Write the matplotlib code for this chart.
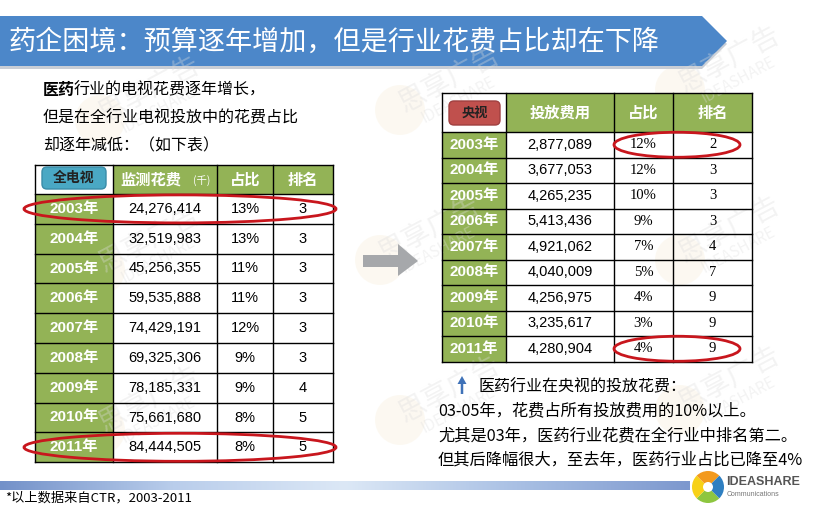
import matplotlib
matplotlib.use("Agg")
import matplotlib.pyplot as plt
import numpy as np
from matplotlib.patches import Rectangle, Polygon, FancyBboxPatch, Ellipse, FancyArrow, Wedge
from matplotlib.colors import LinearSegmentedColormap

plt.rcParams['font.family'] = ['Noto Sans CJK SC', 'DejaVu Sans']

# data: whole-TV spending of the pharma industry
years = ['2003年', '2004年', '2005年', '2006年', '2007年', '2008年', '2009年', '2010年', '2011年']
tv_spend = ['24,276,414', '32,519,983', '45,256,355', '59,535,888', '74,429,191',
            '69,325,306', '78,185,331', '75,661,680', '84,444,505']
tv_share = ['13%', '13%', '11%', '11%', '12%', '9%', '9%', '8%', '8%']
tv_rank = ['3', '3', '3', '3', '3', '3', '4', '5', '5']

# data: CCTV spending
cctv_spend = ['2,877,089', '3,677,053', '4,265,235', '5,413,436', '4,921,062',
              '4,040,009', '4,256,975', '3,235,617', '4,280,904']
cctv_share = ['12%', '12%', '10%', '9%', '7%', '5%', '4%', '3%', '4%']
cctv_rank = ['2', '3', '3', '3', '4', '7', '9', '9', '9']

title = '药企困境：预算逐年增加，但是行业花费占比却在下降'
intro = ['行业的电视花费逐年增长，', '但是在全行业电视投放中的花费占比', '却逐年减低：（如下表）']
notes = ['03-05年，花费占所有投放费用的10%以上。',
         '尤其是03年，医药行业花费在全行业中排名第二。',
         '但其后降幅很大，至去年，医药行业占比已降至4%']

GREEN = '#93B356'
BLUE = '#4C87C9'
RED = '#C8161D'
NUMF = ['Liberation Sans', 'Noto Sans CJK SC']

fig = plt.figure(figsize=(8.18, 5.09), dpi=100)
ax = fig.add_axes([0, 0, 1, 1])
ax.set_xlim(0, 818)
ax.set_ylim(509, 0)
ax.axis('off')

# faint watermarks
for wx, wy in [(150, 90), (450, 80), (730, 60), (150, 240), (430, 230), (730, 230),
               (150, 400), (450, 390), (730, 380)]:
    ax.add_patch(Ellipse((wx - 50, wy + 30), 50, 50, color='#F7EBD3', alpha=0.3, lw=0))
    ax.text(wx, wy, '思享广告', fontsize=20, color='#DDDDDD', rotation=28,
            ha='center', va='center', alpha=0.35)
    ax.text(wx + 8, wy + 20, 'IDEASHARE', fontsize=11, color='#DDDDDD', rotation=28,
            ha='center', va='center', alpha=0.35)

# title banner
ax.add_patch(Polygon([[0, 19], [702, 19], [727, 44], [702, 69], [0, 69]],
                     closed=True, color='#C9CED6', lw=0, zorder=1))
ax.add_patch(Polygon([[0, 16], [702, 16], [727, 41], [702, 66], [0, 66]],
                     closed=True, color=BLUE, lw=0, zorder=2))
ax.text(8, 42, title, fontsize=19.5, color='white', va='center', ha='left', zorder=3)

# intro text
ax.text(43, 90, '医药', fontsize=11.5, fontweight='bold', va='center', ha='left')
ax.text(73.5, 90, intro[0], fontsize=11.5, va='center', ha='left')
ax.text(43, 118, intro[1], fontsize=11.5, va='center', ha='left')
ax.text(43, 146, intro[2], fontsize=11.5, va='center', ha='left')


def draw_table(x_edges, y_top, head_h, row_h, headers, cols, data_family, data_size):
    n = len(years)
    ys = [y_top, y_top + head_h] + [y_top + head_h + row_h * (i + 1) for i in range(n)]
    # header cells
    for j in range(1, len(x_edges) - 1):
        ax.add_patch(Rectangle((x_edges[j], ys[0]), x_edges[j + 1] - x_edges[j],
                               head_h, color=GREEN, lw=0, zorder=2))
        if headers[j - 1]:
            ax.text((x_edges[j] + x_edges[j + 1]) / 2, ys[0] + head_h / 2, headers[j - 1],
                    fontsize=11, fontweight='bold', color='white', ha='center', va='center', zorder=4)
    # year column
    ax.add_patch(Rectangle((x_edges[0], ys[1]), x_edges[1] - x_edges[0], ys[-1] - ys[1],
                           color=GREEN, lw=0, zorder=2))
    for i, yr in enumerate(years):
        cy = ys[1] + row_h * (i + 0.5)
        ax.text((x_edges[0] + x_edges[1]) / 2, cy, yr, fontsize=11, fontweight='bold',
                color='white', ha='center', va='center', family=NUMF, zorder=4)
        for j, col in enumerate(cols):
            ax.text((x_edges[j + 1] + x_edges[j + 2]) / 2, cy, col[i], fontsize=data_size,
                    color='black', ha='center', va='center', family=data_family[j], zorder=4)
    # grid lines
    for y in ys:
        ax.plot([x_edges[0], x_edges[-1]], [y, y], color='black', lw=1, zorder=3)
    for x in x_edges:
        ax.plot([x, x], [ys[0], ys[-1]], color='black', lw=1, zorder=3)
    return ys


# left table
lx = [35, 113, 217, 273, 333]
lys = draw_table(lx, 165, 29, 29.8, ['', '占比', '排名'],
                 [tv_spend, tv_share, tv_rank], [NUMF, NUMF, NUMF], 10.5)
ax.text(120, 180, '监测花费', fontsize=11, fontweight='bold', color='white',
        ha='left', va='center', zorder=4)
ax.text(193, 181, '(千)', fontsize=7.5, color='white', ha='left', va='center', zorder=4)
ax.add_patch(FancyBboxPatch((42, 167), 64, 22, boxstyle='round,pad=0,rounding_size=5',
                            fc='#4AA8C4', ec='#3A8CA8', lw=1, zorder=4))
ax.text(74, 178, '全电视', fontsize=10, fontweight='bold', color='#222222',
        ha='center', va='center', zorder=5)

# right table
rx = [442, 506, 614, 673, 752]
rys = draw_table(rx, 93, 39, 25.5, ['投放费用', '占比', '排名'],
                 [cctv_spend, cctv_share, cctv_rank],
                 [NUMF, ['Liberation Serif'], ['Liberation Serif']], 10.5)
ax.add_patch(FancyBboxPatch((449, 101), 51, 24, boxstyle='round,pad=0,rounding_size=5',
                            fc='#C0504D', ec='#A04040', lw=1, zorder=4))
ax.text(474.5, 113, '央视', fontsize=9.5, fontweight='bold', color='#222222',
        ha='center', va='center', zorder=5)

# red ellipses
for yc in [(lys[1] + lys[2]) / 2, (lys[-2] + lys[-1]) / 2]:
    ax.add_patch(Ellipse((180, yc), 312, 28, fill=False, ec=RED, lw=2, zorder=6))
for yc in [(rys[1] + rys[2]) / 2, (rys[-2] + rys[-1]) / 2]:
    ax.add_patch(Ellipse((677, yc), 126, 25, fill=False, ec=RED, lw=2, zorder=6))

# grey arrow between tables
ax.add_patch(Polygon([[363, 255], [398, 255], [398, 244], [418, 261], [398, 276],
                      [398, 267], [363, 267]], closed=True, color='#A6A8AB', lw=0, zorder=3))

# blue up arrow and notes
ax.add_patch(FancyArrow(462, 394, 0, -18, width=2.5, head_width=9, head_length=8,
                        length_includes_head=True, color='#3F72B8', lw=0, zorder=3))
ax.text(478, 387, '医药行业在央视的投放花费：', fontsize=11.5, va='center', ha='left')
for k, line in enumerate(notes):
    ax.text(438, 411 + 24.5 * k, line, fontsize=11.7, va='center', ha='left')

# bottom gradient bar
cmap = LinearSegmentedColormap.from_list('bar', ['#7391C9', '#B9CDEB', '#DCE8F6', '#A9C0E4', '#7D98CE'])
grad = np.linspace(0, 1, 256).reshape(1, -1)
ax.imshow(grad, cmap=cmap, extent=[0, 690, 490, 481], aspect='auto', zorder=2)
ax.set_xlim(0, 818)
ax.set_ylim(509, 0)
ax.text(5, 498, '*以上数据来自CTR，2003-2011', fontsize=9.5, va='center', ha='left')

# logo
wcols = ['#8DC63F', '#F7D117', '#F39A1E', '#2F7FC1']
for k, c in enumerate(wcols):
    ax.add_patch(Wedge((708, 487), 16, 90 * k + 45, 90 * k + 135, color=c, lw=0, zorder=3))
ax.add_patch(Ellipse((708, 487), 10, 10, color='white', lw=0, zorder=4))
ax.text(726, 482, 'IDEASHARE', fontsize=9, fontweight='bold', color='#555555',
        va='center', ha='left', family=['Liberation Sans'])
ax.text(727, 494, 'Communications', fontsize=5, color='#777777', va='center', ha='left',
        family=['Liberation Sans'])

fig.savefig('out.png', dpi=100, facecolor='white')
